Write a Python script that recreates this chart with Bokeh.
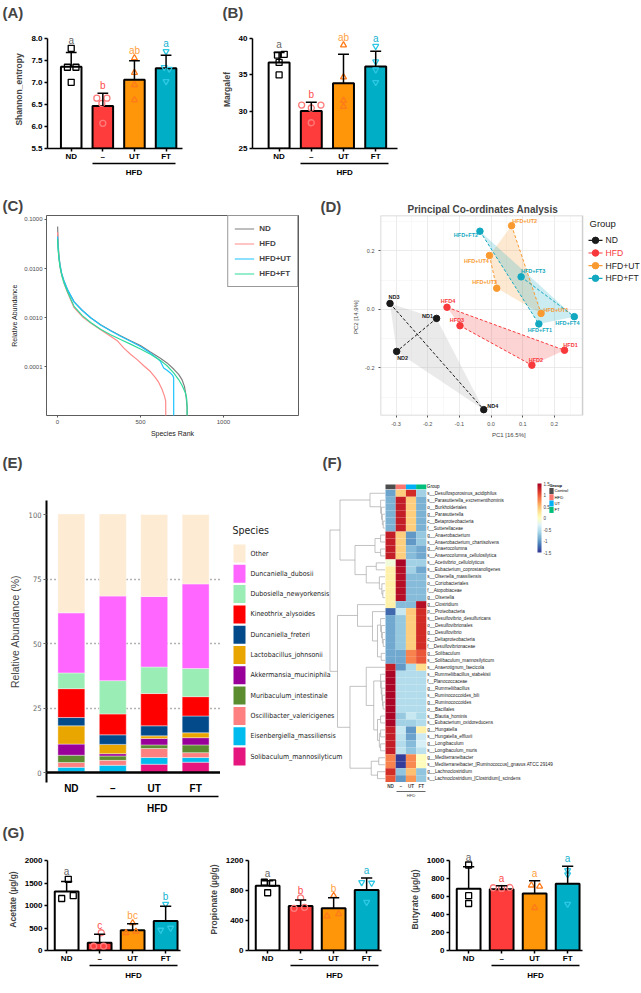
import numpy as np
from bokeh.plotting import figure
from bokeh.models import (Range1d, LinearAxis, FixedTicker, Title,
                          ColumnDataSource, LinearColorMapper, ColorBar, Span, Grid,
                          PrintfTickFormatter, CustomJSTickFormatter)
from bokeh.layouts import row, column
from bokeh.core.properties import value
from bokeh.embed import file_html
from bokeh.resources import INLINE

FONT = "Liberation Sans"
NARROW = "DejaVu Sans Condensed"

# ----------------------------- DATA -----------------------------
GROUPS = ["ND", "–", "UT", "FT"]
HFD_TEXT = "HFD"

SHANNON_MEAN = [7.35, 6.46, 7.06, 7.32]
SHANNON_SD_TOP = [7.675, 6.75, 7.49, 7.61]
SHANNON_PTS = [[7.77, 7.34, 7.34, 7.00], [6.64, 6.64, 6.52, 6.07],
               [7.55, 7.22, 6.94, 6.60], [7.70, 7.34, 7.30, 7.02]]
SHANNON_LETTERS = ["a", "b", "ab", "a"]

MARGALEF_MEAN = [36.7, 30.1, 33.85, 36.15]
MARGALEF_SD_TOP = [38.05, 31.3, 37.8, 38.2]
MARGALEF_PTS = [[37.7, 37.8, 36.7, 35.0], [30.9, 30.5, 30.9, 28.5],
                [39.05, 34.7, 31.5, 30.7], [38.9, 36.8, 35.7, 34.0]]
MARGALEF_LETTERS = ["a", "b", "ab", "a"]

ACETATE_MEAN = [1312, 175, 450, 656]
ACETATE_SD_TOP = [1531, 362, 594, 981]
ACETATE_PTS = [[1581, 1156, 1219], [394, 94, 94], [612, 394, 419], [1031, 456, 500]]
ACETATE_LETTERS = ["a", "c", "bc", "b"]

PROPIONATE_MEAN = [863, 593, 563, 806]
PROPIONATE_SD_TOP = [930, 675, 705, 968]
PROPIONATE_PTS = [[910, 900, 770], [701, 563, 574], [731, 458, 487], [908, 900, 645]]
PROPIONATE_LETTERS = ["a", "b", "b", "a"]

BUTYRATE_MEAN = [687, 681, 634, 741]
BUTYRATE_SD_TOP = [931, 719, 775, 937]
BUTYRATE_PTS = [[950, 609, 522], [697, 690, 700], [725, 712, 475], [890, 844, 516]]
BUTYRATE_LETTERS = ["a", "a", "a", "a"]

# rank-abundance curves
RA_NAMES = ["ND", "HFD", "HFD+UT", "HFD+FT"]
RA_RANK = {
    "ND": [1, 3, 8, 15, 25, 40, 60, 100, 150, 200, 260, 320, 380, 440, 500, 560, 620, 660, 700, 730, 750, 765, 775, 781, 781],
    "HFD": [1, 3, 8, 15, 25, 40, 60, 100, 150, 200, 260, 320, 360, 400, 440, 480, 520, 560, 590, 610, 630, 645, 652, 655],
    "HFD+UT": [1, 3, 8, 15, 25, 40, 60, 100, 150, 200, 260, 320, 380, 440, 500, 560, 600, 620, 640, 660, 680, 695, 700, 701],
    "HFD+FT": [1, 3, 8, 15, 25, 40, 60, 100, 150, 200, 260, 320, 380, 440, 500, 560, 620, 660, 700, 730, 750, 770, 778, 781, 781],
}
RA_ABUND = {
    "ND": [0.072, 0.04, 0.02, 0.012, 0.008, 0.0055, 0.0037, 0.0021, 0.0014, 0.001, 0.00072, 0.00055, 0.00043,
           0.00034, 0.00027, 0.0002, 0.00015, 0.00012, 9e-5, 7e-5, 5.5e-5, 4e-5, 2.5e-5, 1.5e-5, 1e-7],
    "HFD": [0.055, 0.032, 0.018, 0.011, 0.0075, 0.005, 0.0033, 0.0016, 0.00105, 0.00078, 0.00057, 0.00042, 0.00034,
            0.00024, 0.00018, 0.00014, 0.000105, 8e-5, 6e-5, 4.8e-5, 3.5e-5, 2.5e-5, 2e-5, 1e-7],
    "HFD+UT": [0.045, 0.03, 0.018, 0.012, 0.008, 0.0055, 0.0038, 0.0021, 0.0014, 0.001, 0.00071, 0.00054, 0.00042,
               0.00033, 0.00026, 0.00019, 0.00015, 0.00013, 9.5e-5, 8.5e-5, 7.5e-5, 6.6e-5, 6e-5, 1e-7],
    "HFD+FT": [0.04, 0.028, 0.017, 0.011, 0.0075, 0.005, 0.0034, 0.0017, 0.0011, 0.0008, 0.00058, 0.00045, 0.00036,
               0.00029, 0.00023, 0.00018, 0.000135, 0.000105, 7.5e-5, 5.5e-5, 4.2e-5, 3e-5, 2.3e-5, 1.5e-5, 1e-7],
}

# PCoA
PCOA_GROUPS = ["ND", "HFD", "HFD+UT", "HFD+FT"]
PCOA_X = {"ND": [-0.172, -0.298, -0.319, -0.023], "HFD": [0.232, 0.129, -0.098, -0.139],
          "HFD+UT": [0.158, 0.065, 0.018, -0.005], "HFD+FT": [0.151, -0.035, 0.095, 0.263]}
PCOA_Y = {"ND": [-0.031, -0.144, 0.020, -0.343], "HFD": [-0.140, -0.191, -0.056, 0.007],
          "HFD+UT": [-0.014, 0.286, 0.072, 0.184], "HFD+FT": [-0.050, 0.267, 0.111, -0.025]}
PCOA_NAMES = {"ND": ["ND1", "ND2", "ND3", "ND4"], "HFD": ["HFD1", "HFD2", "HFD3", "HFD4"],
              "HFD+UT": ["HFD+UT1", "HFD+UT2", "HFD+UT3", "HFD+UT4"],
              "HFD+FT": ["HFD+FT1", "HFD+FT2", "HFD+FT3", "HFD+FT4"]}
PCOA_PAIRS = {"ND": [(0, 1), (2, 3)], "HFD": [(3, 0), (2, 1)],
              "HFD+UT": [(1, 0), (3, 2)], "HFD+FT": [(1, 0), (2, 3)]}
PCOA_XLIM = (-0.349, 0.289)
PCOA_YLIM = (-0.363, 0.3207)

# stacked species
SPECIES = ["Other", "Duncaniella_dubosii", "Dubosiella_newyorkensis", "Kineothrix_alysoides",
           "Duncaniella_freteri", "Lactobacillus_johnsonii", "Akkermansia_muciniphila",
           "Muribaculum_intestinale", "Oscillibacter_valericigenes", "Eisenbergiella_massiliensis",
           "Solibaculum_mannosilyticum"]
SPECIES_ABUND = {
    "Other": [38.3, 31.8, 31.8, 26.9],
    "Duncaniella_dubosii": [23.3, 32.8, 27.3, 32.8],
    "Dubosiella_newyorkensis": [6.1, 12.9, 10.3, 10.9],
    "Kineothrix_alysoides": [11.2, 8.1, 12.5, 7.5],
    "Duncaniella_freteri": [3.2, 3.7, 3.9, 6.5],
    "Lactobacillus_johnsonii": [7.1, 3.6, 1.0, 1.9],
    "Akkermansia_muciniphila": [4.3, 0.9, 2.5, 2.8],
    "Muribaculum_intestinale": [2.8, 1.7, 1.4, 3.0],
    "Oscillibacter_valericigenes": [1.9, 1.9, 3.5, 1.9],
    "Eisenbergiella_massiliensis": [1.7, 2.6, 2.6, 1.8],
    "Solibaculum_mannosilyticum": [0.3, 0.2, 3.2, 4.0],
}

# heatmap (z-scores per row, columns ND, HFD, UT, FT)
HM_LABELS = [
    "s__Desulfosporosinus_acidiphilus", "s__Parasutterella_excrementihominis", "o__Burkholderiales",
    "g__Parasutterella", "c__Betaproteobacteria", "f__Sutterellaceae", "g__Anaerobacterium",
    "s__Anaerobacterium_chartisolvens", "g__Anaerocolumna", "s__Anaerocolumna_cellulosilytica",
    "s__Acetivibrio_cellulolyticus", "s__Eubacterium_coprostanoligenes", "s__Olsenella_massiliensis",
    "o__Coriobacteriales", "f__Atopobiaceae", "g__Olsenella", "g__Clostridium", "p__Proteobacteria",
    "s__Desulfovibrio_desulfuricans", "o__Desulfovibrionales", "g__Desulfovibrio",
    "c__Deltaproteobacteria", "f__Desulfovibrionaceae", "g__Solibaculum",
    "s__Solibaculum_mannosilyticum", "s__Anaerotignum_faecicola", "s__Rummeliibacillus_stabekisii",
    "f__Planococcaceae", "g__Rummeliibacillus", "s__Ruminococcoides_bili", "g__Ruminococcoides",
    "o__Bacillales", "s__Blautia_hominis", "s__Eubacterium_oxidoreducens", "g__Hungatella",
    "s__Hungatella_effluvii", "g__Longibaculum", "s__Longibaculum_muris", "g__Mediterraneibacter",
    "s__Mediterraneibacter_[Ruminococcus]_gnavus ATCC 29149", "g__Lachnoclostridium",
    "s__Lachnoclostridium_[Clostridium]_scindens"]
HM_Z = [
    [-0.95, 0.4, 1.2, -0.65], [-0.85, 1.3, 0.4, -0.85], [-0.85, 1.3, 0.4, -0.85], [-0.85, 1.3, 0.4, -0.85],
    [-0.85, 1.3, 0.4, -0.85], [-0.85, 1.3, 0.4, -0.85], [1.3, 0.4, -1.0, -0.7], [1.3, 0.4, -1.0, -0.7],
    [1.3, 0.4, -0.8, -0.9], [1.3, 0.4, -0.8, -0.9], [-0.15, 1.45, -0.65, -0.65], [0.15, 1.4, -0.65, -0.9],
    [0.15, 1.4, -0.8, -0.8], [0.15, 1.4, -0.8, -0.8], [0.15, 1.4, -0.8, -0.8], [0.15, 1.4, -0.8, -0.8],
    [0.15, -0.8, -0.8, 1.4], [-1.25, -0.45, 0.45, 1.2], [-0.9, -0.7, 0.4, 1.2], [-0.9, -0.7, 0.4, 1.2],
    [-0.9, -0.7, 0.4, 1.2], [-0.9, -0.7, 0.4, 1.2], [-0.9, -0.7, 0.4, 1.2], [-0.9, -0.9, 0.8, 1.0],
    [-0.9, -0.9, 0.8, 1.0], [1.3, -1.0, -0.6, 0.3], [1.45, -0.55, -0.55, -0.55], [1.45, -0.55, -0.55, -0.55],
    [1.45, -0.55, -0.55, -0.55], [1.45, -0.55, -0.55, -0.55], [1.45, -0.55, -0.55, -0.55],
    [1.45, -0.55, -0.55, -0.55], [1.45, -0.7, -0.45, -0.6], [1.45, -0.65, -0.65, -0.55],
    [1.3, -0.45, -1.0, 0.15], [1.3, -0.5, -0.95, -0.4], [1.3, -0.55, -0.8, -0.35], [1.3, -0.5, -0.75, -0.5],
    [0.8, -1.45, 0.75, 0.0], [0.8, -1.45, 0.75, 0.0], [1.2, -0.75, 0.5, -0.75], [1.0, -1.0, 0.7, -0.7]]
HM_GROUP_LEGEND = ["Control", "HFD", "UT", "FT"]


def chain(idx, h, step):
    if len(idx) == 1:
        return idx[0]
    return (h, idx[0], chain(idx[1:], h - step, step))


# row dendrogram (merge height, left, right)
DENDRO = (44,
          (36, (12, 0, chain([1, 2, 3, 4, 5], 3.5, 0.7)),
               (24, (8, (3.5, 6, 7), (3.5, 8, 9)), (15, (7, 10, 11), (4.5, 12, chain([13, 14, 15], 2.5, 0.8))))),
          (38, (22, 16, (10, 17, (6, chain([18, 19, 20, 21, 22], 3.5, 0.7), (3, 23, 24)))),
               (28, (15, 25, (9, chain(list(range(26, 32)), 3.5, 0.5),
                              (6, (3.5, 32, 33), (4.5, (3.5, 34, 35), (3.5, 36, 37))))),
                    (11, (5, 38, 39), (6, 40, 41)))))

# ----------------------------- STYLE -----------------------------
BAR_FILL = ["white", "#FF3C3C", "#FF9508", "#00AFC5"]
PT_COLORS = ["black", "#FF7B7B", "#FF7A1A", "#2EC8E4"]
LETTER_COLORS = ["#666666", "#FF4D4D", "#FF9F40", "#16B2D0"]
MARKERS = ["square", "circle", "triangle", "inverted_triangle"]
JIT4 = [[0.0, -0.12, 0.15, 0.0], [-0.19, 0.13, -0.03, 0.0], [0.0, 0.0, 0.0, 0.0], [0.0, -0.06, 0.1, 0.0]]
JIT4B = [[-0.05, 0.16, 0.0, 0.0], [-0.3, 0.0, 0.3, 0.0], [0.0, 0.0, 0.0, 0.0], [0.0, 0.0, 0.0, 0.0]]
JIT_AC = [[0.05, -0.15, 0.2], [0.05, -0.18, 0.12], [0.0, -0.2, 0.1], [0.0, -0.15, 0.15]]
JIT_PR = [[-0.1, 0.15, 0.0], [0.0, -0.2, 0.12], [0.0, -0.2, 0.15], [-0.15, 0.15, 0.0]]
JIT_BU = [[0.0, 0.0, 0.0], [-0.25, 0.0, 0.25], [-0.1, 0.15, 0.0], [0.0, 0.0, 0.0]]
RA_COLORS = {"ND": "#7F7F7F", "HFD": "#FF8A8A", "HFD+UT": "#1CC3FF", "HFD+FT": "#2EDB9A"}
PC_COLORS = {"ND": "#1A1A1A", "HFD": "#F8393C", "HFD+UT": "#F89A30", "HFD+FT": "#11A8C0"}
PC_HULL = {"ND": "#B8B8B8", "HFD": "#F8393C", "HFD+UT": "#F89A30", "HFD+FT": "#11A8C0"}
PC_LEGEND_TEXT = {"ND": "#1A1A1A", "HFD": "#F8393C", "HFD+UT": "#1A1A1A", "HFD+FT": "#1A1A1A"}
PC_LABEL_OFF = {"ND": [(-9, -2), (6, 7), (4, -6), (9, -4)], "HFD": [(6, -5), (4, -5), (-3, -6), (1, -6)],
                "HFD+UT": [(15, -3), (13, -5), (-12, -6), (-13, 6)],
                "HFD+FT": [(1, 6), (-14, 4), (12, -6), (-7, 6)]}
SPECIES_COLORS = ["#FDEBD3", "#FF66FF", "#9AEDB5", "#FF0000", "#034A8A", "#E9A600", "#990099",
                  "#5B8C2F", "#FF8080", "#00BBEE", "#E6167F"]
HM_GROUP_COLORS = ["#4D4D4D", "#F8766D", "#00B0F6", "#00BF7D"]
RDYLBU = ["#313695", "#4575B4", "#74ADD1", "#ABD9E9", "#E0F3F8", "#FFFFBF",
          "#FEE090", "#FDAE61", "#F46D43", "#D73027", "#A50026"]


def interp_palette(cols, n):
    rgb = np.array([[int(c[i:i + 2], 16) for i in (1, 3, 5)] for c in cols], float)
    t = np.linspace(0, len(cols) - 1, n)
    out = []
    for v in t:
        i = min(int(v), len(cols) - 2)
        f = v - i
        c = rgb[i] * (1 - f) + rgb[i + 1] * f
        out.append("#%02x%02x%02x" % tuple(int(round(x)) for x in c))
    return out


def style_gp_axis(ax, size="8px"):
    ax.axis_line_width = 1.5
    ax.axis_line_color = "black"
    ax.major_tick_line_color = "black"
    ax.major_tick_line_width = 1.5
    ax.major_tick_out = 3
    ax.major_tick_in = 0
    ax.minor_tick_line_color = None
    ax.major_label_text_font = FONT
    ax.major_label_text_font_style = "bold"
    ax.major_label_text_font_size = size
    ax.major_label_text_color = "black"
    ax.axis_label_text_font = FONT
    ax.axis_label_text_font_style = "bold"
    ax.axis_label_text_font_size = "8.5px"
    ax.major_label_standoff = 0
    ax.axis_label_standoff = 4


def panel_title(p, text, offset, gap=0.0):
    # gap: empty band (px) kept between the panel letter and the plot frame
    if gap > 0:
        p.add_layout(Title(text=" ", text_font_size="1px", standoff=max(gap - 3.2, 0)), "above")
    p.add_layout(Title(text=text, align="left", offset=offset, text_font=FONT, text_font_style="bold",
                       text_font_size="15px", standoff=0, vertical_align="top"), "above")


def bar_panel(fig_w, left, frame_w, top, frame_h, bottom, xr, y0, yax_max, ytop, yticks,
              means, sd_top, pts, jit, letters, ylabel, hfd_bounds, bar_w=0.65, label=None, gap=0.0,
              hfd_standoff=4, yfmt=None):
    p = figure(width=fig_w, height=top + frame_h + bottom, x_range=Range1d(*xr), y_range=Range1d(y0, ytop),
               min_border_left=left, min_border_right=fig_w - left - frame_w, min_border_top=top,
               min_border_bottom=bottom, x_axis_location=None, y_axis_location=None,
               output_backend="svg", toolbar_location=None, title=None)
    p.grid.visible = False
    p.outline_line_color = None
    yax = LinearAxis(ticker=FixedTicker(ticks=yticks), bounds=(y0, yax_max), axis_label=ylabel)
    if yfmt:
        yax.formatter = PrintfTickFormatter(format=yfmt)
    style_gp_axis(yax)
    yax.major_label_standoff = 2
    p.add_layout(yax, "left")
    xax = LinearAxis(ticker=FixedTicker(ticks=[0, 1, 2, 3]),
                     major_label_overrides={i: g for i, g in enumerate(GROUPS)})
    style_gp_axis(xax)
    p.add_layout(xax, "below")
    c = (hfd_bounds[0] + hfd_bounds[1]) / 2.0
    hax = LinearAxis(ticker=FixedTicker(ticks=[c]), bounds=hfd_bounds, major_label_overrides={c: HFD_TEXT})
    style_gp_axis(hax)
    hax.major_tick_line_color = None
    hax.major_tick_out = 0
    hax.major_label_standoff = hfd_standoff
    p.add_layout(hax, "below")

    xs = list(range(4))
    p.vbar(x=xs, top=means, bottom=y0, width=bar_w, fill_color=BAR_FILL, line_color="black", line_width=2)
    for i in xs:
        p.scatter([i + j for j in jit[i]], pts[i], marker=MARKERS[i], size=6, fill_color=None,
                  line_color=PT_COLORS[i], line_width=1.3)
    p.segment(x0=xs, y0=means, x1=xs, y1=sd_top, line_color="black", line_width=1.5)
    p.segment(x0=[i - 0.17 for i in xs], y0=sd_top, x1=[i + 0.17 for i in xs], y1=sd_top,
              line_color="black", line_width=1.5)
    ly = [max(sd_top[i], max(pts[i])) for i in xs]
    p.text(x=xs, y=ly, text=letters, text_color=LETTER_COLORS, text_align="center", text_baseline="bottom",
           text_font=value(FONT), text_font_size="10px", y_offset=-2)
    if label:
        panel_title(p, label, -left + 2, gap)
    return p


# ----------------------------- ROW 1 (0-180) -----------------------------
pa = bar_panel(213, 47, 135, 30, 118, 32, (-0.75, 3.52), 5.5, 8.0, 5.5 + 118 / 44.15,
               [5.5, 6.0, 6.5, 7.0, 7.5, 8.0], SHANNON_MEAN, SHANNON_SD_TOP, SHANNON_PTS, JIT4,
               SHANNON_LETTERS, "Shannon_entropy", (0.67, 3.3), label="(A)", gap=8.5, yfmt="%.1f")
pb = bar_panel(427, 39, 145, 30, 118, 32, (-0.826, 3.677), 25, 40, 25 + 118 / 7.36,
               [25, 30, 35, 40], MARGALEF_MEAN, MARGALEF_SD_TOP, MARGALEF_PTS, JIT4B,
               MARGALEF_LETTERS, "Margalef", (0.67, 3.4))
panel_title(pb, "(B)", -30, 8.5)

# ----------------------------- ROW 2 (180-440) -----------------------------
RT, RF, RB = 35, 201, 24
pc = figure(width=318, height=RT + RF + RB, x_range=Range1d(-66, 1452), y_range=Range1d(1.02e-5, 0.1204),
            y_axis_type="log", min_border_left=46, min_border_right=20, min_border_top=RT,
            min_border_bottom=RB, output_backend="svg", toolbar_location=None, title=None)
pc.grid.visible = False
pc.outline_line_color = "#333333"
pc.outline_line_width = 0.8
for ax in (pc.xaxis[0], pc.yaxis[0]):
    ax.axis_line_color = None
    ax.major_tick_line_color = "#555555"
    ax.major_tick_out = 2
    ax.major_tick_in = 0
    ax.minor_tick_line_color = None
    ax.major_label_text_font = FONT
    ax.major_label_text_font_size = "6px"
    ax.major_label_text_color = "#4D4D4D"
    ax.major_label_standoff = 2
    ax.axis_label_text_font = FONT
    ax.axis_label_text_font_size = "7px"
    ax.axis_label_text_font_style = "normal"
    ax.axis_label_text_color = "#222222"
    ax.axis_label_standoff = 3
pc.yaxis[0].ticker = FixedTicker(ticks=[0.1, 0.01, 0.001, 0.0001])
pc.yaxis[0].formatter = PrintfTickFormatter(format="%.4f")
pc.yaxis[0].axis_label = "Relative Abundance"
pc.xaxis[0].ticker = FixedTicker(ticks=[0, 500, 1000])
pc.xaxis[0].axis_label = "Species Rank"
for g in RA_NAMES:
    pc.line(RA_RANK[g], RA_ABUND[g], line_color=RA_COLORS[g], line_width=1.2, legend_label=g)
lg = pc.legend[0]
lg.location = "top_right"
lg.margin = 0
lg.padding = 6
lg.spacing = 2
lg.glyph_height = 13
lg.glyph_width = 20
lg.label_text_font = FONT
lg.label_text_font_style = "bold"
lg.label_text_font_size = "8px"
lg.border_line_color = "#333333"
lg.border_line_width = 1.5
panel_title(pc, "(C)", -44, 0)

# PCoA: frame extends to the right edge so the key can sit beside the panel box
D_PX = 316.7  # px per unit on PC1
D_W = 260
pd_ = figure(width=322, height=RT + RF + RB,
             x_range=Range1d(PCOA_XLIM[0], PCOA_XLIM[0] + D_W / D_PX), y_range=Range1d(*PCOA_YLIM),
             min_border_left=62, min_border_right=0, min_border_top=RT, min_border_bottom=RB,
             output_backend="svg", toolbar_location=None, title=None)
pd_.add_layout(Title(text="Principal Co-ordinates Analysis", align="left", offset=27, text_font=FONT,
                     text_font_size="10px", text_font_style="bold", standoff=-3, vertical_align="top"),
               "above")
pd_.add_layout(Title(text="(D)", align="left", offset=-60, text_font=FONT, text_font_style="bold",
                     text_font_size="15px", standoff=-18, vertical_align="bottom"), "above")
pd_.outline_line_color = None
xt = [-0.3, -0.2, -0.1, 0.0, 0.1, 0.2]
yt = [-0.2, 0.0, 0.2]
pd_.xaxis[0].ticker = FixedTicker(ticks=xt, minor_ticks=[-0.35, -0.25, -0.15, -0.05, 0.05, 0.15, 0.25])
pd_.yaxis[0].ticker = FixedTicker(ticks=yt, minor_ticks=[-0.3, -0.1, 0.1, 0.3])
pd_.xaxis[0].bounds = PCOA_XLIM
pd_.xgrid[0].ticker = pd_.xaxis[0].ticker
pd_.ygrid[0].ticker = pd_.yaxis[0].ticker
for gr in (pd_.xgrid[0], pd_.ygrid[0]):
    gr.grid_line_color = "#E6E6E6"
    gr.grid_line_width = 0.8
    gr.minor_grid_line_color = "#F3F3F3"
    gr.minor_grid_line_width = 0.6
for ax in (pd_.xaxis[0], pd_.yaxis[0]):
    ax.axis_line_color = None
    ax.major_tick_line_color = "#555555"
    ax.major_tick_out = 2
    ax.major_tick_in = 0
    ax.minor_tick_line_color = None
    ax.major_label_text_font = FONT
    ax.major_label_text_font_size = "5.5px"
    ax.major_label_text_color = "#4D4D4D"
    ax.major_label_standoff = 2
    ax.formatter = PrintfTickFormatter(format="%.1f")
    ax.axis_label_text_font = FONT
    ax.axis_label_text_font_size = "6px"
    ax.axis_label_text_font_style = "normal"
    ax.axis_label_standoff = 3
pd_.xaxis[0].axis_label = "PC1   [16.5%]"
pd_.yaxis[0].axis_label = "PC2   [14.9%]"
xr_end = PCOA_XLIM[0] + D_W / D_PX
pd_.quad(left=[PCOA_XLIM[1]], right=[xr_end], bottom=[PCOA_YLIM[0]], top=[PCOA_YLIM[1]],
         fill_color="white", line_color=None)
pd_.quad(left=[PCOA_XLIM[0]], right=[PCOA_XLIM[1]], bottom=[PCOA_YLIM[0]], top=[PCOA_YLIM[1]],
         fill_color=None, line_color="#CFCFCF", line_width=1.5)


def convex_hull(xs, ys):
    pts = sorted(zip(xs, ys))

    def cross(o, a, b):
        return (a[0] - o[0]) * (b[1] - o[1]) - (a[1] - o[1]) * (b[0] - o[0])
    lower, upper = [], []
    for pt in pts:
        while len(lower) >= 2 and cross(lower[-2], lower[-1], pt) <= 0:
            lower.pop()
        lower.append(pt)
    for pt in reversed(pts):
        while len(upper) >= 2 and cross(upper[-2], upper[-1], pt) <= 0:
            upper.pop()
        upper.append(pt)
    h = lower[:-1] + upper[:-1]
    return [q[0] for q in h], [q[1] for q in h]


for g in PCOA_GROUPS:
    hx_, hy_ = convex_hull(PCOA_X[g], PCOA_Y[g])
    pd_.patch(hx_, hy_, fill_color=PC_HULL[g], fill_alpha=0.22 if g != "ND" else 0.3, line_color=None)
for g in PCOA_GROUPS:
    X, Y = PCOA_X[g], PCOA_Y[g]
    pairs = PCOA_PAIRS[g]
    pd_.segment(x0=[X[a] for a, b in pairs], y0=[Y[a] for a, b in pairs],
                x1=[X[b] for a, b in pairs], y1=[Y[b] for a, b in pairs],
                line_color=PC_COLORS[g], line_dash="3 2", line_width=1)
    pd_.scatter(X, Y, size=6.5, fill_color=PC_COLORS[g], line_color=PC_COLORS[g])
    offs = PC_LABEL_OFF[g]
    pd_.text(x=X, y=Y, text=PCOA_NAMES[g], x_offset=[o[0] for o in offs], y_offset=[o[1] for o in offs],
             text_align="center", text_baseline="middle", text_color=PC_COLORS[g],
             text_font=value(FONT), text_font_style="bold", text_font_size="5.5px")
# key of panel D (beside the panel box)
dx = lambda px: PCOA_XLIM[0] + (px - 380) / D_PX
dy = lambda py: PCOA_YLIM[1] - (py - 215) / 294.0
key_y = [dy(240 + 12.7 * i) for i in range(len(PCOA_GROUPS))]
pd_.segment(x0=[dx(588)] * 4, y0=key_y, x1=[dx(602)] * 4, y1=key_y,
            line_color=[PC_COLORS[g] for g in PCOA_GROUPS], line_width=1.2)
pd_.scatter([dx(595)] * 4, key_y, size=6.5, fill_color=[PC_COLORS[g] for g in PCOA_GROUPS],
            line_color=[PC_COLORS[g] for g in PCOA_GROUPS])
pd_.text(x=[dx(605)] * 4, y=key_y, text=PCOA_GROUPS, text_color=[PC_LEGEND_TEXT[g] for g in PCOA_GROUPS],
         text_font=value(FONT), text_font_size="8.6px", text_baseline="middle")
pd_.text(x=[dx(589)], y=[dy(222.7)], text=["Group"], text_font=value(FONT), text_font_size="9.5px",
         text_baseline="middle", text_color="#1A1A1A")

# ----------------------------- ROW 3 (440-820) -----------------------------
ET, EF, EB = 40, 302, 38          # frame 480-782
E_PXP = 2.58                       # px per percent
pe = figure(width=220, height=ET + EF + EB, x_range=Range1d(-0.6, 3.6),
            y_range=Range1d(-(782 - 772) / E_PXP, (772 - 480) / E_PXP),
            min_border_left=46, min_border_right=0, min_border_top=ET, min_border_bottom=EB,
            x_axis_location=None, y_axis_location=None, output_backend="svg", toolbar_location=None,
            title=None)
pe.grid.visible = False
pe.outline_line_color = None
pe.add_layout(Grid(dimension=1, ticker=FixedTicker(ticks=[25, 50, 75]), grid_line_dash="1 3",
                   grid_line_color="#666666", grid_line_width=1.4))
src = ColumnDataSource(dict(x=[0, 1, 2, 3], **{s: SPECIES_ABUND[s] for s in SPECIES}))
stack_order = SPECIES[::-1]
col_of = dict(zip(SPECIES, SPECIES_COLORS))
pe.vbar_stack(stack_order, x="x", width=0.65, color=[col_of[s] for s in stack_order], source=src,
              line_color="white", line_width=0.4)
pe.add_layout(Span(location=0, dimension="width", line_color="black", line_width=2.5))
eyax = LinearAxis(ticker=FixedTicker(ticks=[0, 25, 50, 75, 100]), axis_label="Relative Abundance (%)",
                  bounds=(-(782 - 772) / E_PXP, (772 - 500) / E_PXP))
eyax.axis_line_width = 2
eyax.axis_line_color = "black"
eyax.major_tick_line_color = "#666666"
eyax.major_tick_out = 3
eyax.major_tick_in = 0
eyax.minor_tick_line_color = None
eyax.major_label_text_font = NARROW
eyax.major_label_text_font_size = "7.5px"
eyax.major_label_text_color = "#666666"
eyax.major_label_standoff = 2
eyax.axis_label_text_font = FONT
eyax.axis_label_text_font_size = "10.5px"
eyax.axis_label_text_font_style = "normal"
eyax.axis_label_standoff = 5
pe.add_layout(eyax, "left")
exax = LinearAxis(ticker=FixedTicker(ticks=[0, 1, 2, 3]),
                  major_label_overrides={i: g for i, g in enumerate(GROUPS)})
style_gp_axis(exax, "10px")
exax.axis_line_color = None
exax.major_tick_line_color = None
exax.major_tick_out = 0
exax.major_label_standoff = 0
pe.add_layout(exax, "below")
eb = (0.6, 3.55)
ehax = LinearAxis(ticker=FixedTicker(ticks=[(eb[0] + eb[1]) / 2]), bounds=eb,
                  major_label_overrides={(eb[0] + eb[1]) / 2: HFD_TEXT})
style_gp_axis(ehax, "10px")
ehax.major_tick_line_color = None
ehax.major_tick_out = 0
ehax.major_label_standoff = 6
pe.add_layout(ehax, "below")
panel_title(pe, "(E)", -44, 8.5)

# heatmap figure (also hosts the species key of panel E)
FW = 420
cw, rh = 10.2, 6.96
hx0 = -0.5 - 165 / cw
hy0 = -0.5 - 9.3 / rh
fx = lambda px: hx0 + px / cw
fy = lambda py: hy0 + (py - 40) / rh
pf = figure(width=FW, height=ET + EF + EB, x_range=Range1d(hx0, hx0 + FW / cw),
            y_range=Range1d(hy0 + EF / rh, hy0),
            min_border_left=0, min_border_right=0, min_border_top=ET, min_border_bottom=EB,
            x_axis_location=None, y_axis_location=None, output_backend="svg", toolbar_location=None,
            title=None)
pf.grid.visible = False
pf.outline_line_color = None
panel_title(pf, "(F)", 102, 8.5)

# species key for panel E
n_sp = len(SPECIES)
ky = [fy(113 + 20.3 * i) for i in range(n_sp)]
pf.rect(x=[fx(19)] * n_sp, y=ky, width=12 / cw, height=18 / rh, fill_color=SPECIES_COLORS, line_color=None)
pf.text(x=[fx(30)] * n_sp, y=ky, text=SPECIES, text_font=value(NARROW), text_font_size="7px",
        text_baseline="middle", text_color="#222222")
pf.text(x=[fx(12)], y=[fy(89)], text=["Species"], text_font=value(NARROW), text_font_size="10.5px",
        text_baseline="middle", text_color="#222222")

pal = interp_palette(RDYLBU, 100)
mapper = LinearColorMapper(palette=pal, low=-1.5, high=1.5)
cells = dict(x=[], y=[], z=[])
for ri, rowv in enumerate(HM_Z):
    for ci, z in enumerate(rowv):
        cells["x"].append(ci)
        cells["y"].append(ri)
        cells["z"].append(z)
pf.rect(x="x", y="y", width=1, height=1, source=ColumnDataSource(cells),
        fill_color={"field": "z", "transform": mapper}, line_color=None)
pf.rect(x=[0, 1, 2, 3], y=-0.92, width=1, height=0.68, fill_color=HM_GROUP_COLORS, line_color=None)
pf.text(x=[3.55], y=[-0.92], text=["Group"], text_font=value(FONT), text_font_size="4.6px",
        text_baseline="middle")
pf.text(x=[3.6] * len(HM_LABELS), y=list(range(len(HM_LABELS))), text=HM_LABELS, text_font=value(FONT),
        text_font_size="4.6px", text_baseline="middle", text_color="#222222")
fxax = LinearAxis(ticker=FixedTicker(ticks=[0, 1, 2, 3]),
                  major_label_overrides={i: g for i, g in enumerate(GROUPS)})
fxax.axis_line_color = None
fxax.major_tick_line_color = None
fxax.minor_tick_line_color = None
fxax.major_tick_out = 0
fxax.major_label_standoff = 1
fxax.major_label_text_font = FONT
fxax.major_label_text_font_size = "4.6px"
fxax.major_label_text_font_style = "bold"
pf.add_layout(fxax, "below")
fb = (0.55, 3.45)
fhax = LinearAxis(ticker=FixedTicker(ticks=[(fb[0] + fb[1]) / 2]), bounds=fb,
                  major_label_overrides={(fb[0] + fb[1]) / 2: HFD_TEXT})
fhax.axis_line_width = 0.6
fhax.major_tick_line_color = None
fhax.minor_tick_line_color = None
fhax.major_tick_out = 0
fhax.major_label_standoff = 1
fhax.major_label_text_font = FONT
fhax.major_label_text_font_size = "4.2px"
pf.add_layout(fhax, "below")
segs = []


def walk(node):
    if isinstance(node, int):
        return float(node), 0.0
    h, a, b = node
    ya, ha = walk(a)
    yb, hb = walk(b)
    segs.append((ha, ya, h, ya))
    segs.append((hb, yb, h, yb))
    segs.append((h, ya, h, yb))
    return (ya + yb) / 2.0, h


walk(DENDRO)
DSCALE = 1.25
hxd = lambda h: -0.5 - h * DSCALE / cw - 0.05
pf.segment(x0=[hxd(s[0]) for s in segs], y0=[s[1] for s in segs], x1=[hxd(s[2]) for s in segs],
           y1=[s[3] for s in segs], line_color="#A8A8A8", line_width=0.7)
cb = ColorBar(color_mapper=mapper, location=(317, 230), width=4, height=69, padding=0, margin=0,
              ticker=FixedTicker(ticks=[-1.5, -1, -0.5, 0, 0.5, 1, 1.5]),
              formatter=CustomJSTickFormatter(code="return tick.toString()"),
              major_label_text_font_size="4.5px", major_label_text_font=FONT, label_standoff=2,
              major_tick_line_color=None, bar_line_color=None, border_line_color=None,
              background_fill_alpha=0)
pf.add_layout(cb)
lgx = fx(331)
lgy = [-0.33, 0.57, 1.47, 2.4]
pf.rect(x=[lgx] * 4, y=lgy, width=0.42, height=0.85, fill_color=HM_GROUP_COLORS, line_color=None)
pf.text(x=[lgx - 0.2], y=[lgy[0] - 0.85], text=["Group"], text_font=value(FONT), text_font_size="4.2px",
        text_baseline="middle", text_font_style="bold")
pf.text(x=[lgx + 0.3] * 4, y=lgy, text=HM_GROUP_LEGEND, text_font=value(FONT), text_font_size="4.2px",
        text_baseline="middle")

# ----------------------------- ROW 4 (820-992) -----------------------------
GT, GF, GB = 28, 102, 42
sc = GF / 90.0
pg1 = bar_panel(205, 47, 133, GT, GF, GB, (-0.58, 3.45), 0, 2000, 2000 * sc, [0, 500, 1000, 1500, 2000],
                ACETATE_MEAN, ACETATE_SD_TOP, ACETATE_PTS, JIT_AC, ACETATE_LETTERS, "Acetate (µg/g)",
                (0.7, 3.35), bar_w=0.72, label="(G)", gap=6.5, hfd_standoff=5)
pg2 = bar_panel(200, 43, 133, GT, GF, GB, (-0.58, 3.45), 0, 1200, 1200 * sc, [0, 400, 800, 1200],
                PROPIONATE_MEAN, PROPIONATE_SD_TOP, PROPIONATE_PTS, JIT_PR, PROPIONATE_LETTERS,
                "Propionate (µg/g)", (0.7, 3.35), bar_w=0.72, hfd_standoff=5)
pg3 = bar_panel(235, 44, 133, GT, GF, GB, (-0.58, 3.45), 0, 1000, 1000 * sc, [0, 200, 400, 600, 800, 1000],
                BUTYRATE_MEAN, BUTYRATE_SD_TOP, BUTYRATE_PTS, JIT_BU, BUTYRATE_LETTERS,
                "Butyrate (µg/g)", (0.7, 3.35), bar_w=0.72, hfd_standoff=5)

layout = column(row(pa, pb, spacing=0), row(pc, pd_, spacing=0), row(pe, pf, spacing=0),
                row(pg1, pg2, pg3, spacing=0), spacing=0)
open("out.html", "w").write(file_html(layout, INLINE))
